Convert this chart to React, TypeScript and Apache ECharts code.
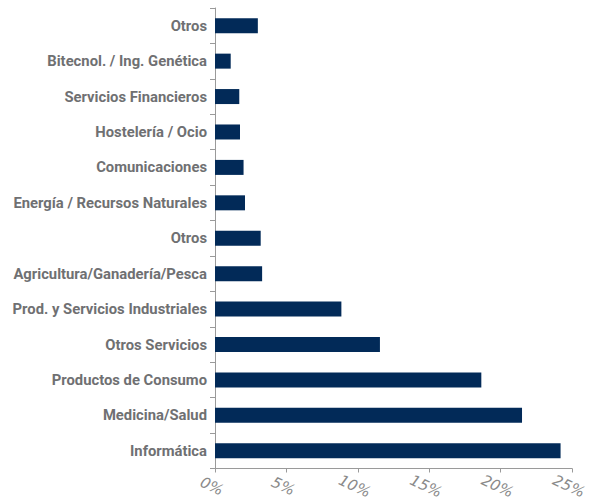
import React, { useEffect, useRef } from "react";
import * as echarts from "echarts";

// bottom to top
const categories = [
  "Informática",
  "Medicina/Salud",
  "Productos de Consumo",
  "Otros Servicios",
  "Prod. y Servicios Industriales",
  "Agricultura/Ganadería/Pesca",
  "Otros",
  "Energía / Recursos Naturales",
  "Comunicaciones",
  "Hostelería / Ocio",
  "Servicios Financieros",
  "Bitecnol. / Ing. Genética",
  "Otros",
];
const values = [24.2, 21.5, 18.65, 11.55, 8.85, 3.3, 3.2, 2.1, 2.0, 1.75, 1.7, 1.1, 3.0];
const xTicks = [0, 5, 10, 15, 20, 25];

export default function App() {
  const ref = useRef<HTMLDivElement>(null);
  useEffect(() => {
    const chart = echarts.init(ref.current!, null, { renderer: "svg" });
    chart.setOption({
      animation: false,
      grid: { left: 215, right: 23, top: 8, bottom: 34.5, containLabel: false },
      xAxis: {
        type: "value",
        min: xTicks[0],
        max: xTicks[xTicks.length - 1],
        interval: 5,
        splitLine: { show: false },
        axisLine: { show: true, lineStyle: { color: "#9a9a9a", width: 1 } },
        axisTick: { show: true, length: 4, lineStyle: { color: "#9a9a9a" } },
        axisLabel: {
          formatter: "{value}%",
          rotate: -25,
          align: "center",
          verticalAlign: "top",
          margin: 11,
          color: "#8a8a8a",
          fontSize: 15,
          fontStyle: "italic",
          fontFamily: "DejaVu Sans",
          fontWeight: "normal",
        },
      },
      yAxis: {
        type: "category",
        data: categories,
        axisLine: { show: true, lineStyle: { color: "#9a9a9a", width: 1 } },
        axisTick: { show: true, length: 5, lineStyle: { color: "#9a9a9a" } },
        axisLabel: {
          color: "#6f7072",
          fontSize: 14.8,
          fontWeight: "bold",
          fontFamily: "Roboto",
          margin: 8,
        },
      },
      series: [
        {
          type: "bar",
          data: values,
          barWidth: 15,
          itemStyle: { color: "#022a58" },
        },
      ],
    });
    return () => chart.dispose();
  }, []);
  return <div ref={ref} style={{ width: 595, height: 503, position: "absolute", left: 0, top: 0 }} />;
}
